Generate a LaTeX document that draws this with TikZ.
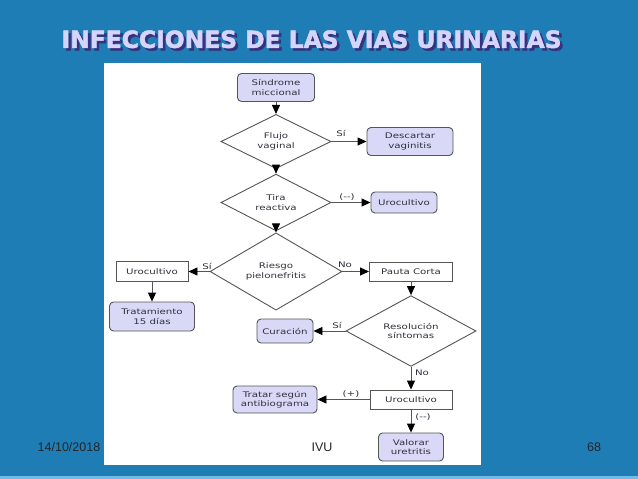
\documentclass[tikz,border=0pt]{standalone}
\usepackage{graphicx}
\usepackage{fontspec}
\usetikzlibrary{shapes.geometric,arrows.meta}
\newfontfamily\dfont[FakeStretch=1.33]{DejaVu Sans}
\newfontfamily\ffont{Liberation Sans}
\newfontfamily\tfont{DejaVu Sans}[BoldFeatures={FakeBold=2}]
\newcommand\nf{\dfont\fontsize{7.7}{9.4}\selectfont}
\newcommand\tittext{INFECCIONES DE LAS VIAS URINARIAS}
\definecolor{bgc}{HTML}{1F7DB6}
\definecolor{stripc}{HTML}{72BAE6}
\definecolor{boxc}{HTML}{D9D9F7}
\definecolor{bordc}{HTML}{555555}
\definecolor{txtc}{HTML}{30303C}
\definecolor{titc}{HTML}{D4D4FC}
\definecolor{shadc}{HTML}{34347E}
\begin{document}
\begin{tikzpicture}[x=1pt,y=-1pt,
  box/.style={draw=bordc,line width=0.9pt,fill=boxc,rectangle,rounded corners=4pt,font=\nf,text=txtc,align=center,inner sep=0pt},
  rbox/.style={draw=bordc,line width=0.9pt,fill=white,rectangle,font=\nf,text=txtc,align=center,inner sep=0pt},
  dia/.style={draw=bordc,line width=0.9pt,fill=white,diamond,font=\nf,text=txtc,align=center,inner sep=0pt},
  arr/.style={draw=bordc,line width=0.9pt,-{Triangle[length=9pt,width=8pt,color=black]}},
  lbl/.style={font=\nf,text=txtc,inner sep=0pt},
  foot/.style={font=\ffont\fontsize{12.5}{14}\selectfont,text=black!85,inner sep=0pt}]
\useasboundingbox (0,0) rectangle (638,479);
\fill[bgc] (0,0) rectangle (638,479);
\fill[stripc] (0,475.5) rectangle (638,479);
\fill[white] (104,63) rectangle (481,465);
% title (with shadow)
\node[inner sep=0pt] (tit) at (311.6,40.6) {\resizebox{500pt}{17.5pt}{\tfont\bfseries\rlap{\raisebox{-1.1pt}{\hspace{1.1pt}\textcolor{shadc}{\tittext}}}\textcolor{titc}{\tittext}}};
% nodes
\node[box,minimum width=77pt,minimum height=28pt] (sind) at (276,87.5) {Síndrome\\miccional};
\node[dia,minimum width=110pt,minimum height=44pt] (flujo) at (276,141.5) {Flujo\\vaginal};
\node[box,minimum width=86pt,minimum height=28pt] (desc) at (410,141.5) {Descartar\\vaginitis};
\node[dia,minimum width=110pt,minimum height=44pt] (tira) at (276,202.5) {Tira\\reactiva};
\node[box,minimum width=66pt,minimum height=21pt] (uro1) at (404,202.5) {Urocultivo};
\node[dia,minimum width=132pt,minimum height=53pt] (riesgo) at (276,271.5) {Riesgo\\pielonefritis};
\node[rbox,minimum width=72pt,minimum height=20pt] (urol) at (152,271.5) {Urocultivo};
\node[box,minimum width=85pt,minimum height=29pt] (trat) at (152,316.5) {Tratamiento\\15 días};
\node[rbox,minimum width=83pt,minimum height=19pt] (pauta) at (411,271.5) {Pauta Corta};
\node[dia,minimum width=130pt,minimum height=66pt] (resol) at (411,331) {Resolución\\síntomas};
\node[box,minimum width=56pt,minimum height=24pt] (cura) at (285,331) {Curación};
\node[rbox,minimum width=82pt,minimum height=19pt] (uro3) at (411,399.5) {Urocultivo};
\node[box,minimum width=84pt,minimum height=27pt] (trat2) at (275,399.5) {Tratar según\\antibiograma};
\node[box,minimum width=65pt,minimum height=28pt] (val) at (411,447) {Valorar\\uretritis};
% connectors
\draw[arr] (sind) -- (flujo);
\draw[arr] (flujo) -- (desc);
\draw[arr] (flujo) -- (tira);
\draw[arr] (tira) -- (uro1);
\draw[arr] (tira) -- (riesgo);
\draw[arr] (riesgo) -- (urol);
\draw[arr] (riesgo) -- (pauta);
\draw[arr] (urol) -- (trat);
\draw[arr] (pauta) -- (resol);
\draw[arr] (resol) -- (cura);
\draw[arr] (resol) -- (uro3);
\draw[arr] (uro3) -- (trat2);
\draw[arr] (uro3) -- (val);
% labels
\node[lbl] (l1) at (341,133) {Sí};
\node[lbl] (l2) at (347,197) {({-}{-})};
\node[lbl] (l3) at (207,266) {Sí};
\node[lbl] (l4) at (345,265) {No};
\node[lbl] (l5) at (337,325) {Sí};
\node[lbl] (l6) at (422,373) {No};
\node[lbl] (l7) at (351,394) {(+)};
\node[lbl] (l8) at (423,417) {({-}{-})};
% footer
\node[foot] (date) at (69,447) {14/10/2018};
\node[foot] (ivu) at (322,447) {IVU};
\node[foot] (num) at (594,447) {68};
\end{tikzpicture}
\end{document}
